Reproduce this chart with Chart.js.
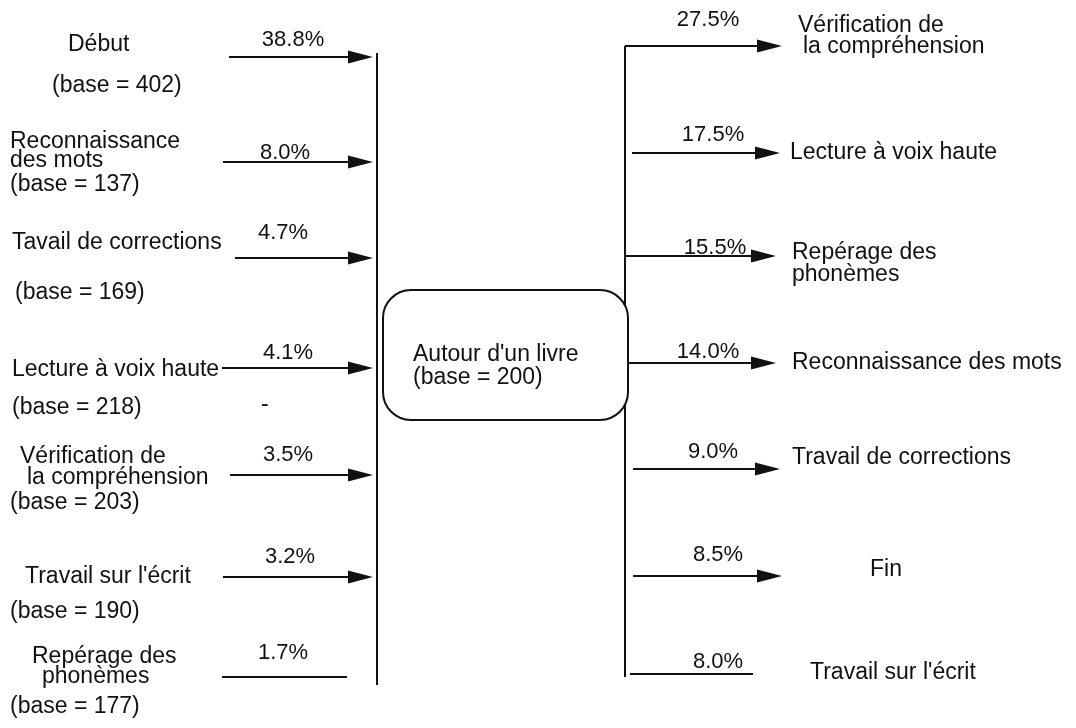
<!DOCTYPE html>
<html>
<head>
<meta charset="utf-8">
<script src="https://cdn.jsdelivr.net/npm/chart.js@4.4.1/dist/chart.umd.min.js"></script>
<style>
  html, body { margin: 0; padding: 0; background: #fff; }
  canvas { display: block; }
</style>
</head>
<body>
<canvas id="flow" width="1076" height="728"></canvas>
<script>
/* --------------- Data --------------------- */
const leftNames = [
  ["Début"],
  ["Reconnaissance", "des mots"],
  ["Tavail de corrections"],
  ["Lecture à voix haute"],
  ["Vérification de", "la compréhension"],
  ["Travail sur l'écrit"],
  ["Repérage des", "phonèmes"],
];
const leftBases = [402, 137, 169, 218, 203, 190, 177];
const leftPcts = [38.8, 8.0, 4.7, 4.1, 3.5, 3.2, 1.7];

const centerName = "Autour d'un livre";
const centerBase = 200;

const rightNames = [
  ["Vérification de", "la compréhension"],
  ["Lecture à voix haute"],
  ["Repérage des", "phonèmes"],
  ["Reconnaissance des mots"],
  ["Travail de corrections"],
  ["Fin"],
  ["Travail sur l'écrit"],
];
const rightPcts = [27.5, 17.5, 15.5, 14.0, 9.0, 8.5, 8.0];

/* --------------- Layout (pixels on a 1076 x 728 scale) --------------------- */
const leftRowY = [57, 162, 258, 368, 475, 577, 677];
const rightRowY = [46, 153, 256, 363, 469, 576, 674];
const leftArrowX = [[229, 373], [223, 373], [235, 373], [222, 373], [230, 373], [223, 373], [222, 347]];
const rightArrowX = [[625, 782], [632, 780], [625, 776], [628, 776], [633, 780], [633, 782], [630, 753]];
const leftNameXY = [[[68, 45]], [[10, 142], [10, 161]], [[12, 243]], [[12, 370]], [[20, 457], [27, 478]], [[25, 577]], [[32, 657], [42, 677]]];
const leftBaseXY = [[52, 86], [10, 185], [15, 293], [12, 408], [10, 503], [10, 612], [10, 707]];
const leftPctXY = [[293, 40], [285, 153], [283, 233], [288, 353], [288, 455], [290, 557], [283, 653]];
const rightNameXY = [[[798, 26], [803, 47]], [[790, 153]], [[792, 253], [792, 275]], [[792, 363]], [[792, 458]], [[870, 570]], [[810, 673]]];
const rightPctXY = [[708, 20], [713, 135], [715, 248], [708, 352], [713, 452], [718, 555], [718, 662]];
const box = { x0: 383, x1: 628, y0: 290, y1: 420, r: 28 };
const INK = "#111";
const FONT = "'Liberation Sans', Arial, sans-serif";

/* --------------- Build line segments --------------------- */
const segments = [];
leftPcts.forEach((p, i) => {
  segments.push({ x0: leftArrowX[i][0], x1: leftArrowX[i][1], y: leftRowY[i], head: i < leftPcts.length - 1 });
});
rightPcts.forEach((p, i) => {
  segments.push({ x0: rightArrowX[i][0], x1: rightArrowX[i][1], y: rightRowY[i], head: i < rightPcts.length - 1 });
});

const lineStyle = {
  showLine: true,
  pointRadius: 0,
  borderColor: INK,
  borderWidth: 2,
  tension: 0,
  clip: false,
};

const datasets = segments.map((s) => ({
  ...lineStyle,
  data: [
    { x: s.x0, y: s.y },
    { x: s.head ? s.x1 - 12 : s.x1, y: s.y },
  ],
}));
// the two vertical bars
datasets.push({ ...lineStyle, data: [{ x: 377, y: 53 }, { x: 377, y: 685 }] });
datasets.push({ ...lineStyle, data: [{ x: 625, y: 46 }, { x: 625, y: 677 }] });

/* --------------- Arrow heads, box and texts --------------------- */
const flowDecor = {
  id: "flowDecor",
  afterDatasetsDraw(chart) {
    const ctx = chart.ctx;
    const xs = chart.scales.x;
    const ys = chart.scales.y;
    const X = (v) => xs.getPixelForValue(v);
    const Y = (v) => ys.getPixelForValue(v);
    ctx.save();
    ctx.fillStyle = INK;
    ctx.strokeStyle = INK;

    // arrow heads
    segments.forEach((s) => {
      if (!s.head) return;
      const tx = X(s.x1), ty = Y(s.y);
      ctx.beginPath();
      ctx.moveTo(tx, ty);
      ctx.lineTo(tx - 25, ty - 6.5);
      ctx.lineTo(tx - 25, ty + 6.5);
      ctx.closePath();
      ctx.fill();
    });

    // rounded box
    const bx0 = X(box.x0), bx1 = X(box.x1), by0 = Y(box.y0), by1 = Y(box.y1);
    ctx.lineWidth = 2;
    ctx.fillStyle = "#fff";
    ctx.beginPath();
    ctx.roundRect(bx0, by0, bx1 - bx0, by1 - by0, box.r);
    ctx.fill();
    ctx.stroke();

    ctx.fillStyle = INK;
    ctx.textBaseline = "middle";
    ctx.font = "23px " + FONT;
    ctx.textAlign = "left";
    ctx.fillText(centerName, X(413), Y(355));
    ctx.fillText("(base = " + centerBase + ")", X(413), Y(378));

    // left labels
    leftNames.forEach((lines, i) => {
      lines.forEach((t, k) => ctx.fillText(t, X(leftNameXY[i][k][0]), Y(leftNameXY[i][k][1])));
      ctx.fillText("(base = " + leftBases[i] + ")", X(leftBaseXY[i][0]), Y(leftBaseXY[i][1]));
    });
    ctx.fillText("-", X(261), Y(405));

    // right labels
    rightNames.forEach((lines, i) => {
      lines.forEach((t, k) => ctx.fillText(t, X(rightNameXY[i][k][0]), Y(rightNameXY[i][k][1])));
    });

    // percentages
    ctx.font = "22px " + FONT;
    ctx.textAlign = "center";
    leftPcts.forEach((p, i) => ctx.fillText(p.toFixed(1) + "%", X(leftPctXY[i][0]), Y(leftPctXY[i][1])));
    rightPcts.forEach((p, i) => ctx.fillText(p.toFixed(1) + "%", X(rightPctXY[i][0]), Y(rightPctXY[i][1])));
    ctx.restore();
  },
};

/* --------------- Chart --------------------- */
const flowChart = new Chart(document.getElementById("flow"), {
  type: "scatter",
  data: { datasets },
  plugins: [flowDecor],
  options: {
    responsive: false,
    animation: false,
    events: [],
    layout: { padding: 0 },
    scales: {
      x: { type: "linear", min: 0, max: 1076, display: false },
      y: { type: "linear", min: 0, max: 728, reverse: true, display: false },
    },
    plugins: {
      legend: { display: false },
      tooltip: { enabled: false },
    },
  },
});
</script>
</body>
</html>
